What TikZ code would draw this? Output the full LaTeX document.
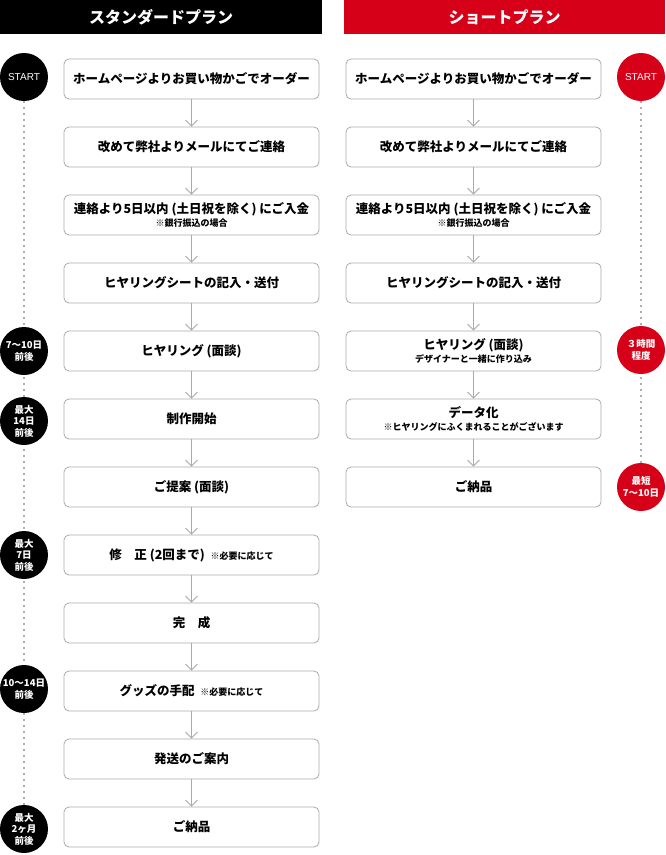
\documentclass[tikz,border=0pt]{standalone}
\usepackage{fontspec}
\newfontfamily\jp{Noto Sans CJK JP}
\newfontfamily\jpsans{Noto Sans CJK JP}
\newfontfamily\arialf{Liberation Sans}
\newcommand\notef{\jp\bfseries\fontsize{9}{10}\selectfont}
\usetikzlibrary{arrows.meta}
\definecolor{redc}{RGB}{214,0,24}
\definecolor{boxline}{RGB}{170,170,170}
\definecolor{dotc}{RGB}{175,175,175}
\begin{document}
\begin{tikzpicture}[x=1pt,y=-1pt,
  stepbox/.style={draw=boxline,line width=0.8pt,rounded corners=5pt,fill=white,minimum width=255pt,minimum height=40pt,align=center,inner sep=0pt,font=\jp\bfseries\fontsize{12.5}{15}\selectfont},
  flowarrow/.style={draw=boxline,line width=0.8pt,-{Straight Barb[length=6pt,width=12pt,line width=0.8pt]}},
  badge/.style={circle,minimum size=48pt,inner sep=0pt,align=center,text=white,font=\jpsans\bfseries\fontsize{9.5}{11.5}\selectfont},
  bblack/.style={badge,fill=black},
  bred/.style={badge,fill=redc},
  starttext/.style={font=\arialf\fontsize{10}{12}\selectfont},
  timeline/.style={draw=dotc,line width=2pt,dash pattern=on 1.5pt off 4.5pt},
  header/.style={minimum width=322pt,minimum height=34pt,inner sep=0pt,text=white,font=\jp\bfseries\fontsize{16}{18}\selectfont}
]
\useasboundingbox (0,0) rectangle (665,855);
\fill[white] (0,0) rectangle (665,855);
% headers
\node[header,fill=black] (h1) at (161,17) {スタンダードプラン};
\node[header,fill=redc,minimum width=321pt] (h2) at (504.5,17) {ショートプラン};
% timelines
\coordinate (lt1) at (24,77);
\coordinate (lt2) at (24,829);
\coordinate (rt1) at (641,77);
\coordinate (rt2) at (641,487);
\draw[timeline] (lt1) -- (lt2);
\draw[timeline] (rt1) -- (rt2);
% left boxes
\node[stepbox] (a1) at (191.5,79) {ホームページよりお買い物かごでオーダー};
\node[stepbox] (a2) at (191.5,147) {改めて弊社よりメールにてご連絡};
\node[stepbox] (a3) at (191.5,215) {連絡より5日以内 (土日祝を除く) にご入金\\[-2pt]{\notef ※銀行振込の場合}};
\node[stepbox] (a4) at (191.5,283) {ヒヤリングシートの記入・送付};
\node[stepbox] (a5) at (191.5,351) {ヒヤリング (面談)};
\node[stepbox] (a6) at (191.5,419) {制作開始};
\node[stepbox] (a7) at (191.5,487) {ご提案 (面談)};
\node[stepbox] (a8) at (191.5,555) {修　正 (2回まで)\ \ {\notef ※必要に応じて}};
\node[stepbox] (a9) at (191.5,623) {完　成};
\node[stepbox] (a10) at (191.5,691) {グッズの手配\ \ {\notef ※必要に応じて}};
\node[stepbox] (a11) at (191.5,759) {発送のご案内};
\node[stepbox] (a12) at (191.5,827) {ご納品};
\foreach \i/\j in {1/2,2/3,3/4,4/5,5/6,6/7,7/8,8/9,9/10,10/11,11/12}
  \draw[flowarrow] (a\i.south) -- (a\j.north);
% right boxes
\node[stepbox] (b1) at (473.5,79) {ホームページよりお買い物かごでオーダー};
\node[stepbox] (b2) at (473.5,147) {改めて弊社よりメールにてご連絡};
\node[stepbox] (b3) at (473.5,215) {連絡より5日以内 (土日祝を除く) にご入金\\[-2pt]{\notef ※銀行振込の場合}};
\node[stepbox] (b4) at (473.5,283) {ヒヤリングシートの記入・送付};
\node[stepbox] (b5) at (473.5,351) {ヒヤリング (面談)\\[-2pt]{\notef デザイナーと一緒に作り込み}};
\node[stepbox] (b6) at (473.5,419) {データ化\\[-2pt]{\notef ※ヒヤリングにふくまれることがございます}};
\node[stepbox] (b7) at (473.5,487) {ご納品};
\foreach \i/\j in {1/2,2/3,3/4,4/5,5/6,6/7}
  \draw[flowarrow] (b\i.south) -- (b\j.north);
% left badges
\node[bblack,starttext] (c1) at (24,77) {START};
\node[bblack] (c2) at (24,351) {7〜10日\\前後};
\node[bblack] (c3) at (24,421) {最大\\14日\\前後};
\node[bblack] (c4) at (24,555) {最大\\7日\\前後};
\node[bblack] (c5) at (24,689) {10〜14日\\前後};
\node[bblack] (c6) at (24,829) {最大\\2ヶ月\\前後};
% right badges
\node[bred,starttext] (d1) at (641,77) {START};
\node[bred] (d2) at (641,350) {３時間\\程度};
\node[bred] (d3) at (641,487) {最短\\7〜10日};
\end{tikzpicture}
\end{document}
